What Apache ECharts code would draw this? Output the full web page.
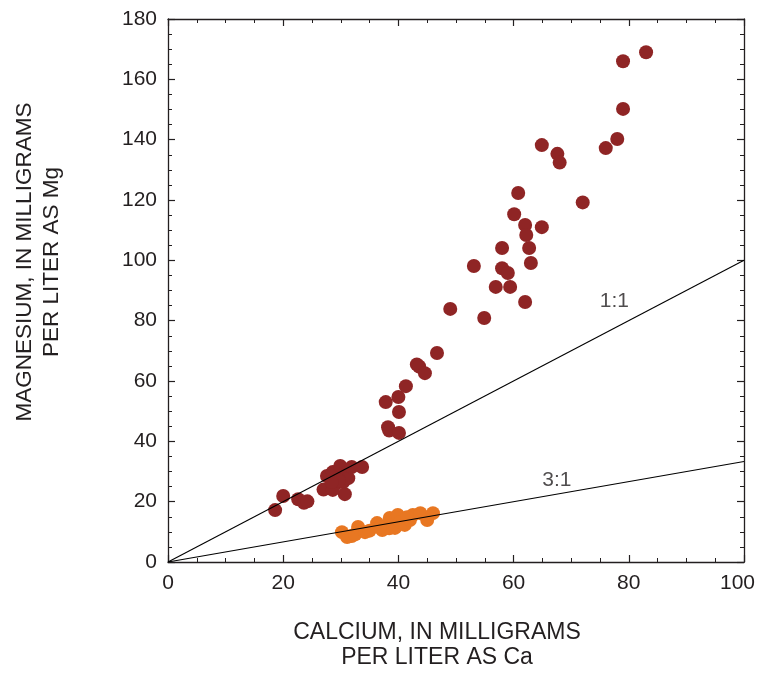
<!DOCTYPE html>
<html><head><meta charset="utf-8">
<script src="https://cdn.jsdelivr.net/npm/echarts@6/dist/echarts.min.js"></script>
<style>html,body{margin:0;padding:0;background:#fff}#c{width:758px;height:674px}</style>
</head><body><div id="c"></div>
<script>
var xTitle = ['CALCIUM, IN MILLIGRAMS', 'PER LITER AS Ca'];
var yTitle = ['MAGNESIUM, IN MILLIGRAMS', 'PER LITER AS Mg'];
// Red group: [calcium, magnesium]
var groupA = [
  [18.6,17.2],[20.0,21.9],[22.6,20.8],[23.6,19.6],[24.2,20.1],
  [27.0,24.0],[27.6,28.5],[28.6,29.8],[29.9,31.8],[30.7,29.5],[29.3,26.2],[30.4,26.5],
  [31.3,27.8],[31.9,31.5],[33.7,31.5],[30.7,22.5],[28.6,23.9],[29.6,27.0],[28.4,26.5],
  [37.8,53.0],[38.2,44.7],[38.4,43.6],[40.1,42.8],[40.1,49.7],[40.0,54.7],[41.3,58.3],
  [43.2,65.5],[43.6,64.8],[44.6,62.6],[46.7,69.3],[49.0,83.9],
  [53.1,98.1],[54.9,80.9],[56.9,91.2],[58.0,97.4],[59.0,95.8],[59.4,91.2],[58.0,104.1],
  [60.1,115.3],[60.8,122.3],[62.0,111.7],[62.2,108.4],[62.7,104.1],[63.0,99.1],[62.0,86.2],
  [64.9,111.0],[64.9,138.2],[67.6,135.3],[68.0,132.4],[72.0,119.2],
  [76.0,137.2],[78.0,140.2],[79.0,150.2],[79.0,166.0],[83.0,169.0]
];
// Orange group: [calcium, magnesium]
var groupB = [
  [30.2,9.9],[31.1,8.3],[31.9,8.6],[32.5,9.2],[33.0,11.6],[34.2,9.9],[35.0,10.4],
  [36.3,12.9],[37.2,10.6],[37.8,11.9],[38.5,14.6],[38.4,11.2],[39.9,15.6],[39.4,11.3],
  [40.3,13.3],[41.1,12.3],[42.0,13.9],[42.5,15.6],[43.8,16.2],[45.0,13.9],[46.0,16.2],
  [41.5,14.8],[36.8,11.5]
];
var ratioLines = [
  {name:'1:1', pts:[[0,0],[100,100]], label:[77.5,86.5]},
  {name:'3:1', pts:[[0,0],[100,33.333]], label:[67.5,27.2]}
];
var xMin=0, xMax=100, xStep=20, yMin=0, yMax=180, yStep=20;

var font = '"Liberation Sans", Arial, Helvetica, sans-serif';
var ink = '#231f20';
var chart = echarts.init(document.getElementById('c'));
function ax(show, extra){
  return Object.assign({
    type:'value', axisLine:{show:true,onZero:false,lineStyle:{color:ink,width:1.3}},
    axisTick:{show:true,inside:true,length:7,lineStyle:{color:ink,width:1.2}},
    minorTick:{show:true,splitNumber:4,length:4,lineStyle:{color:ink,width:1}},
    splitLine:{show:false},
    axisLabel:{show:show,color:ink,fontSize:21,fontFamily:font,margin:11}
  }, extra);
}
var xLabel = {show:true,color:ink,fontSize:21,fontFamily:font,margin:11,
  formatter:function(v){ return v===xMax ? '{r|'+v+'}' : String(v); },
  rich:{r:{color:ink,fontSize:21,fontFamily:font,padding:[0,13,0,0]}}};
var series = [
  {type:'scatter', data:groupA, symbolSize:14, itemStyle:{color:'#8f2525',opacity:1}, z:3},
  {type:'scatter', data:groupB, symbolSize:14, itemStyle:{color:'#e87722',opacity:1}, z:3}
];
ratioLines.forEach(function(r){
  series.push({type:'line', data:r.pts, showSymbol:false, symbol:'none', lineStyle:{color:'#000',width:1.1}, z:5, silent:true});
  series.push({type:'scatter', data:[r.label], symbolSize:0, z:6,
    label:{show:true, formatter:r.name, position:'inside', color:ink, fontSize:21, fontFamily:font}});
});
chart.setOption({
  animation:false,
  grid:{left:168, top:19, width:576, height:543, containLabel:false, outerBoundsMode:'none'},
  xAxis:[ax(true,{min:xMin,max:xMax,interval:xStep,position:'bottom',axisLabel:xLabel}), ax(false,{min:xMin,max:xMax,interval:xStep,position:'top'})],
  yAxis:[ax(true,{min:yMin,max:yMax,interval:yStep,position:'left'}), ax(false,{min:yMin,max:yMax,interval:yStep,position:'right'})],
  series:series,
  graphic:[
    {type:'text', x:437, y:620, style:{text:xTitle.join('\n'), font:'23px '+font, fill:ink, textAlign:'center', textVerticalAlign:'top', lineHeight:25}},
    {type:'text', rotation:Math.PI/2, x:11, y:262, style:{text:yTitle.join('\n'), font:'22.5px '+font, fill:ink, textAlign:'center', textVerticalAlign:'top', lineHeight:27}}
  ]
});
</script></body></html>
